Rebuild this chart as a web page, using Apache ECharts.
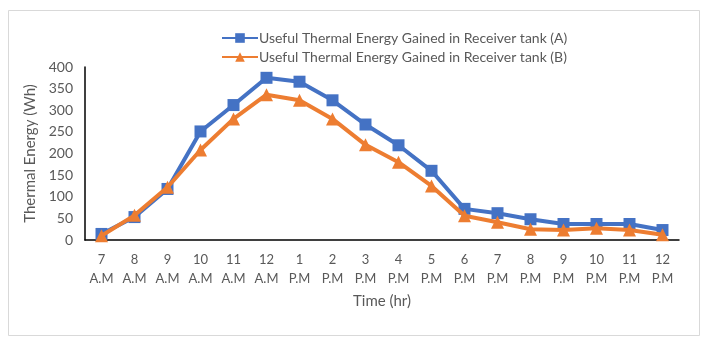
<!DOCTYPE html>
<html>
<head>
<meta charset="utf-8">
<script src="https://cdn.jsdelivr.net/npm/echarts@6/dist/echarts.min.js"></script>
<style>
  html, body { margin: 0; padding: 0; background: #fff; }
  #chart { width: 709px; height: 345px; }
</style>
</head>
<body>
<div id="chart"></div>
<script>
const hours = ['7\nA.M', '8\nA.M', '9\nA.M', '10\nA.M', '11\nA.M', '12\nA.M', '1\nP.M', '2\nP.M', '3\nP.M',
  '4\nP.M', '5\nP.M', '6\nP.M', '7\nP.M', '8\nP.M', '9\nP.M', '10\nP.M', '11\nP.M', '12\nP.M']
const tankA = [14, 53, 118, 251, 312, 375, 366, 323, 267, 219, 160, 72, 62, 48, 37, 37, 37, 23]
const tankB = [10, 57, 122, 208, 280, 336, 323, 280, 220, 180, 125, 56, 41, 25, 23, 27, 23, 12]
const nameA = 'Useful Thermal Energy Gained in Receiver tank (A)'
const nameB = 'Useful Thermal Energy Gained in Receiver tank (B)'

const textColor = '#595959'
const font = 'Lato, "Open Sans", sans-serif'

const myChart = echarts.init(document.getElementById('chart'))

const option = {
  backgroundColor: '#fff',
  animation: false,
  textStyle: { fontFamily: font },
  graphic: [
    {
      type: 'rect',
      shape: { x: 8.5, y: 10.5, width: 691, height: 325 },
      style: { fill: 'none', stroke: '#d9d9d9', lineWidth: 1 }
    }
  ],
  legend: {
    orient: 'vertical',
    left: 216,
    top: 26,
    itemGap: 5,
    itemWidth: 36,
    itemHeight: 12,
    textStyle: { color: textColor, fontSize: 14, fontFamily: font, padding: [0, 0, 0, -4] },
    data: [nameA, nameB]
  },
  grid: {
    left: 85,
    right: 30,
    top: 67,
    bottom: 105,
    containLabel: false
  },
  xAxis: {
    type: 'category',
    data: hours,
    boundaryGap: true,
    name: 'Time (hr)',
    nameLocation: 'middle',
    nameGap: 54,
    nameTextStyle: { color: textColor, fontSize: 15, fontFamily: font },
    axisLine: { lineStyle: { color: '#000', width: 1.5 } },
    axisTick: { show: false },
    axisLabel: {
      color: textColor,
      fontSize: 13,
      lineHeight: 19,
      margin: 10,
      interval: 0,
      fontFamily: font
    }
  },
  yAxis: {
    type: 'value',
    min: 0,
    max: 400,
    interval: 50,
    name: 'Thermal Energy (Wh)',
    nameLocation: 'middle',
    nameGap: 46,
    nameTextStyle: { color: textColor, fontSize: 15, fontFamily: font },
    axisLine: { show: true, lineStyle: { color: '#000', width: 1.5 } },
    axisTick: { show: false },
    splitLine: { show: false },
    axisLabel: { color: textColor, fontSize: 14, margin: 12, fontFamily: font }
  },
  series: [
    {
      name: nameA,
      type: 'line',
      data: tankA,
      symbol: 'rect',
      symbolSize: 12,
      lineStyle: { color: '#4472C4', width: 4 },
      itemStyle: { color: '#4472C4' },
      z: 2
    },
    {
      name: nameB,
      type: 'line',
      data: tankB,
      symbol: 'triangle',
      symbolSize: 13,
      lineStyle: { color: '#ED7D31', width: 4 },
      itemStyle: { color: '#ED7D31' },
      z: 3
    }
  ]
}

myChart.setOption(option)
</script>
</body>
</html>
